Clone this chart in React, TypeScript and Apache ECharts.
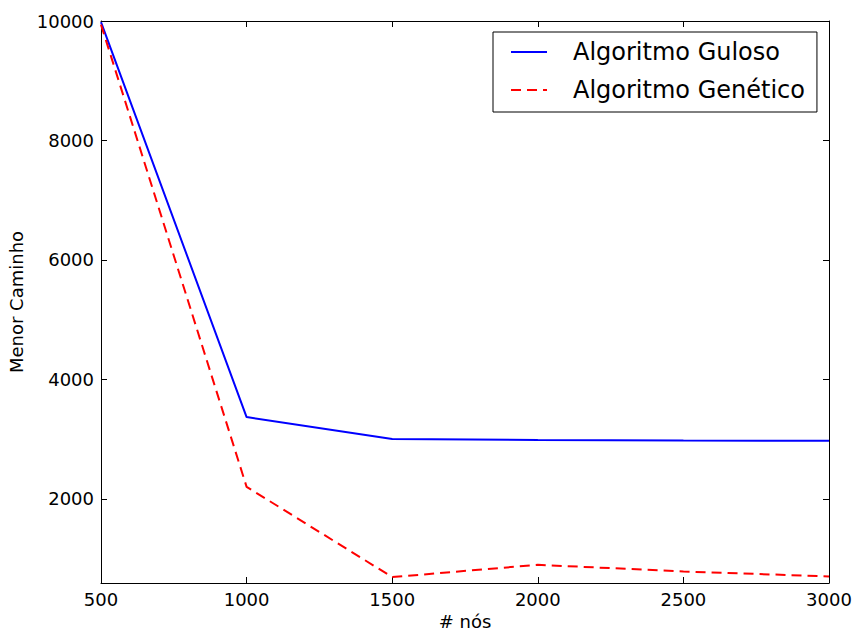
import React, { useEffect, useRef } from "react";
import * as echarts from "echarts";

const nodes = [500, 1000, 1500, 2000, 2500, 3000];
const guloso = [9980, 3368, 3003, 2983, 2975, 2970];
const genetico = [9940, 2200, 689, 895, 783, 700];
const yTicks = [2000, 4000, 6000, 8000, 10000];
const seriesNames = ["Algoritmo Guloso", "Algoritmo Genético"];

const FONT = "DejaVu Sans";

export default function App() {
  const ref = useRef<HTMLDivElement>(null);
  useEffect(() => {
    if (!ref.current) return;
    const chart = echarts.init(ref.current, undefined, { renderer: "svg" });
    const yMin = 590;
    const yMax = 10000;
    const axisLineStyle = { color: "#000", width: 1 };
    const fmt = (v: number) => String(v);
    chart.setOption({
      animation: false,
      backgroundColor: "#fff",
      textStyle: { fontFamily: FONT, color: "#000" },
      grid: { left: 101, right: 24, top: 21, bottom: 50, containLabel: false, outerBoundsMode: "none" },
      legend: {
        orient: "vertical",
        left: 493,
        top: 32,
        itemWidth: 36,
        itemHeight: 14,
        itemGap: 10,
        padding: [6, 12, 8, 17],
        borderColor: "#000",
        borderWidth: 1,
        borderRadius: 0,
        backgroundColor: "#fff",
        itemStyle: { opacity: 0 },
        textStyle: { fontFamily: FONT, fontSize: 24, color: "#000", padding: [0, 0, 0, 21], lineHeight: 28 },
        data: seriesNames,
      },
      xAxis: [
        {
          type: "value",
          min: 500,
          max: 3000,
          interval: 500,
          name: "# nós",
          nameLocation: "middle",
          nameGap: 28,
          nameTextStyle: { fontFamily: FONT, fontSize: 18, color: "#000" },
          axisLine: { show: true, lineStyle: axisLineStyle },
          axisTick: { show: true, inside: true, length: 6, lineStyle: axisLineStyle },
          axisLabel: { fontFamily: FONT, fontSize: 18, color: "#000", margin: 7, formatter: fmt },
          splitLine: { show: false },
        },
        {
          type: "value",
          position: "top",
          min: 500,
          max: 3000,
          interval: 500,
          axisLine: { show: true, onZero: false, lineStyle: axisLineStyle },
          axisTick: { show: true, inside: true, length: 6, lineStyle: axisLineStyle },
          axisLabel: { show: false },
          splitLine: { show: false },
        },
      ],
      yAxis: [
        {
          type: "value",
          min: yMin,
          max: yMax,
          name: "Menor Caminho",
          nameLocation: "middle",
          nameGap: 70,
          nameTextStyle: { fontFamily: FONT, fontSize: 18, color: "#000" },
          axisLine: { show: true, lineStyle: axisLineStyle },
          axisTick: { show: true, inside: true, length: 6, lineStyle: axisLineStyle, customValues: yTicks },
          axisLabel: { fontFamily: FONT, fontSize: 18, color: "#000", margin: 7, customValues: yTicks, formatter: fmt },
          splitLine: { show: false },
        },
        {
          type: "value",
          position: "right",
          min: yMin,
          max: yMax,
          axisLine: { show: true, onZero: false, lineStyle: axisLineStyle },
          axisTick: { show: true, inside: true, length: 6, lineStyle: axisLineStyle, customValues: yTicks },
          axisLabel: { show: false, customValues: yTicks },
          splitLine: { show: false },
        },
      ],
      series: [
        {
          name: seriesNames[0],
          type: "line",
          xAxisIndex: 0,
          yAxisIndex: 0,
          data: nodes.map((x, i) => [x, guloso[i]]),
          symbol: "none",
          lineStyle: { color: "#0000ff", width: 2 },
          itemStyle: { color: "#0000ff" },
          clip: false,
        },
        {
          name: seriesNames[1],
          type: "line",
          xAxisIndex: 0,
          yAxisIndex: 0,
          data: nodes.map((x, i) => [x, genetico[i]]),
          symbol: "none",
          lineStyle: { color: "#ff0000", width: 2, type: [10, 6] },
          itemStyle: { color: "#ff0000" },
          clip: false,
        },
      ],
    });
    return () => chart.dispose();
  }, []);
  return <div ref={ref} style={{ width: 853, height: 633, position: "absolute", left: 0, top: 0 }} />;
}
